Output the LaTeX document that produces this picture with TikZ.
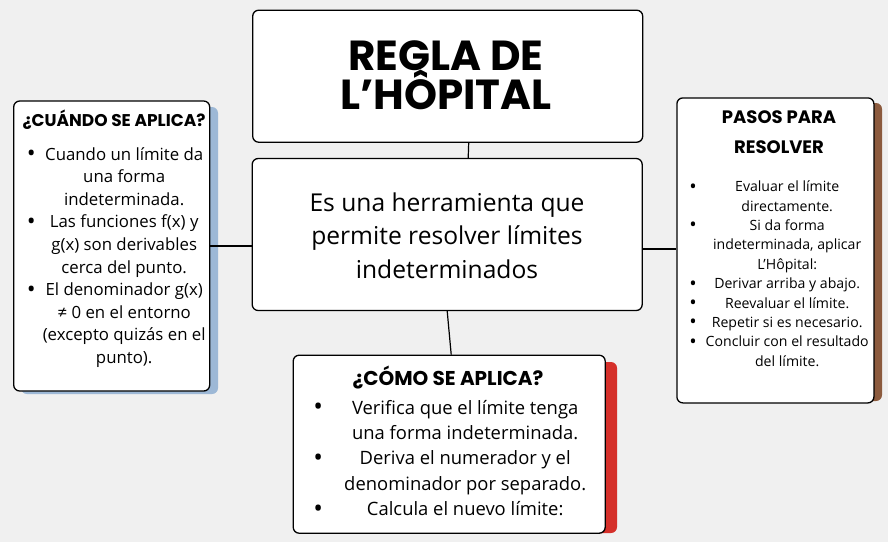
\documentclass[tikz,border=0pt]{standalone}
\usepackage{fontspec}
\usepackage{array}
\usepackage{graphicx}
\setmainfont{Open Sans}
\newfontfamily\markerfont{Poppins}
\definecolor{bgcolor}{HTML}{F0F0F0}
\definecolor{shadowblue}{HTML}{9DB8D6}
\definecolor{shadowbrown}{HTML}{8C5B3E}
\definecolor{shadowred}{HTML}{D5302A}
\newcolumntype{M}[1]{>{\centering\arraybackslash}p{#1}}
\newcommand{\bigdot}{\raisebox{-0.1em}{\scalebox{1.4}{\textbullet}}}

\tikzset{
    card/.style = {draw, fill = white, rounded corners = 6pt, line width = 1.3pt, inner sep = 0pt},
    link/.style = {line width = 1.2pt},
    heading/.style = {inner sep = 0pt, anchor = base, font = \markerfont\bfseries\fontsize{#1}{30}\selectfont},
    listtext/.style = {inner sep = 0pt, anchor = base west, font = #1},
}

\begin{document}
\begin{tikzpicture}[x = 1pt, y = -1pt]
        \useasboundingbox [fill = bgcolor] (0, 0) rectangle (888, 542);

        % Shadows
        \fill [shadowblue, rounded corners = 6pt] (21, 107) rectangle (218, 394);
        \fill [shadowbrown, rounded corners = 6pt] (684, 103) rectangle (882, 401);
        \fill [shadowred, rounded corners = 6pt] (305, 362) rectangle (617, 533);

        % Cards
        \node [card, minimum width = 390pt, minimum height = 132pt] (title) at (447.7, 76.2) {};
        \node [card, minimum width = 390pt, minimum height = 152pt] (main) at (447.2, 234.5) {};
        \node [card, minimum width = 196pt, minimum height = 290pt] (when) at (111.7, 246) {};
        \node [card, minimum width = 197pt, minimum height = 305pt] (steps) at (775.4, 250.4) {};
        \node [card, minimum width = 312pt, minimum height = 178pt] (how) at (449.2, 444.2) {};

        % Draw the links
        \draw [link] ([xshift = 21pt]title.south) -- ([xshift = 21pt]main.north);
        \draw [link] (when.east |- 0, 246) -- (main.west |- 0, 246);
        \draw [link] (main.east |- 0, 249) -- (steps.west |- 0, 249);
        \draw [link] (main.south) -- ([xshift = 2pt]how.north);

        % Headings
        \node [heading = 42] (titletext) at (446, 70) {\begin{tabular}[t]{@{}c@{}}REGLA DE\\[-9pt] L’HÔPITAL\end{tabular}};
        \node [heading = 17] (whenhead) at (114, 126.7) {¿CUÁNDO SE APLICA?};
        \node [heading = 18] (stepshead) at (779, 123.3) {\begin{tabular}[t]{@{}c@{}}PASOS PARA\\ RESOLVER\end{tabular}};
        \node [heading = 20] (howhead) at (448, 385) {¿CÓMO SE APLICA?};

        % Main text
        \node [inner sep = 0pt, anchor = base, font = \fontsize{24.6}{33.5}\selectfont] (maintext) at (447, 211)
            {\begin{tabular}[t]{@{}c@{}}Es una herramienta que\\ permite resolver límites\\ indeterminados\end{tabular}};

        % Lists
        \node [listtext = \fontsize{16.8}{22.6}\selectfont] (whenlist) at (25, 160)
            {\begin{tabular}[t]{@{}M{12pt}@{}M{174pt}@{}}
                \bigdot & Cuando un límite da\par una forma\par indeterminada.\\
                \bigdot & Las funciones f(x) y\par g(x) son derivables\par cerca del punto.\\
                \bigdot & El denominador g(x)\par ≠ 0 en el entorno\par (excepto quizás en el\par punto).
            \end{tabular}};
        \node [listtext = \fontsize{14.1}{19.4}\selectfont] (stepslist) at (688, 191.7)
            {\begin{tabular}[t]{@{}M{10pt}@{}M{178pt}@{}}
                \bigdot & Evaluar el límite\par directamente.\\
                \bigdot & Si da forma\par indeterminada, aplicar\par L’Hôpital:\\
                \bigdot & Derivar arriba y abajo.\\
                \bigdot & Reevaluar el límite.\\
                \bigdot & Repetir si es necesario.\\
                \bigdot & Concluir con el resultado\par del límite.
            \end{tabular}};
        \node [listtext = \fontsize{18.4}{25.4}\selectfont] (howlist) at (312, 414)
            {\begin{tabular}[t]{@{}M{12pt}@{}M{282pt}@{}}
                \bigdot & Verifica que el límite tenga\par una forma indeterminada.\\
                \bigdot & Deriva el numerador y el\par denominador por separado.\\
                \bigdot & Calcula el nuevo límite:
            \end{tabular}};

    \end{tikzpicture}
\end{document}
